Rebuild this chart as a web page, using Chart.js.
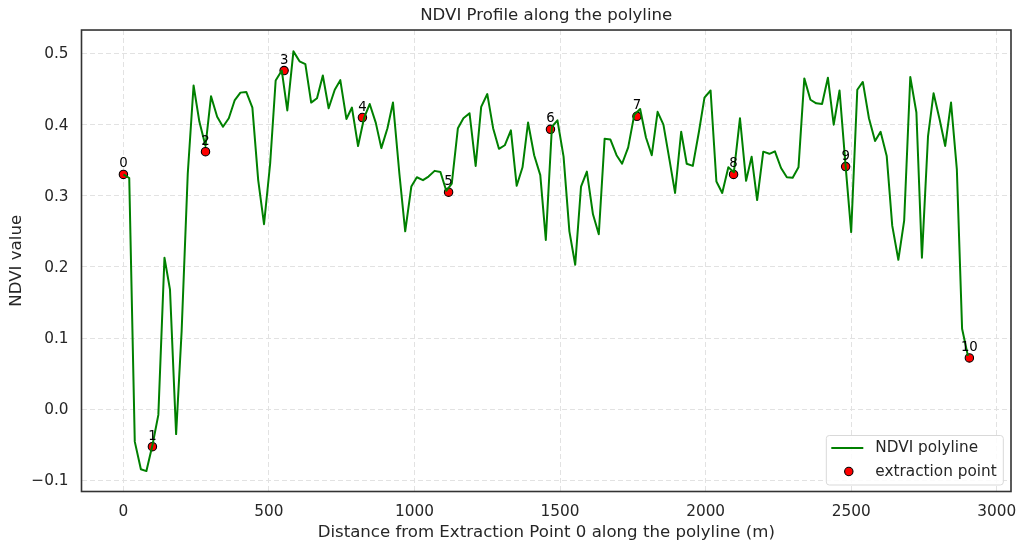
<!DOCTYPE html>
<html><head><meta charset="utf-8">
<style>html,body{margin:0;padding:0;background:#fff}canvas{display:block}</style>
<script src="https://cdn.jsdelivr.net/npm/chart.js@4"></script>
</head><body><canvas id="c" width="1025" height="551" style="width:1025px;height:551px"></canvas>
<script>
const distances=[0,20,39,60,79,100,120,141,160,181,200,221,241,261,282,301,322,342,362,382,402,422,443,463,483,504,523,544,563,584,605,625,645,665,685,705,726,745,766,785,806,827,846,867,886,907,926,948,968,989,1008,1029,1048,1069,1089,1109,1128,1149,1168,1189,1210,1229,1250,1270,1290,1310,1331,1351,1371,1390,1411,1432,1451,1472,1491,1512,1532,1552,1572,1592,1613,1633,1653,1673,1694,1713,1734,1755,1775,1795,1815,1835,1855,1876,1895,1916,1935,1956,1977,1996,2017,2037,2057,2078,2097,2118,2139,2158,2177,2198,2219,2238,2259,2279,2299,2319,2339,2360,2380,2400,2420,2440,2460,2481,2500,2521,2540,2561,2582,2601,2622,2641,2662,2682,2703,2724,2743,2764,2783,2804,2823,2843,2863,2881,2901];
const ndvi=[.33,.325,-.0456,-.0845,-.087,-.05,-.008,.213,.168,-.035,.11,.331,.455,.404,.37,.44,.411,.397,.409,.434,.445,.446,.424,.322,.26,.345,.462,.476,.42,.503,.489,.485,.431,.437,.469,.423,.449,.4625,.408,.424,.37,.41,.429,.4025,.367,.395,.431,.331,.25,.313,.326,.322,.327,.335,.3335,.307,.317,.395,.409,.416,.342,.425,.443,.395,.366,.371,.392,.314,.34,.403,.357,.329,.238,.397,.406,.355,.25,.203,.313,.334,.274,.246,.38,.379,.357,.345,.368,.414,.422,.382,.357,.418,.4,.35,.304,.39,.345,.342,.39,.438,.448,.32,.304,.34,.333,.409,.321,.355,.294,.362,.359,.3625,.339,.326,.3255,.34,.465,.435,.43,.429,.466,.4,.448,.341,.249,.449,.46,.409,.377,.39,.356,.258,.21,.265,.467,.417,.213,.384,.444,.407,.37,.431,.337,.113,.075];
const pointDistances=[0,99.6,282,552,821,1117,1467,1764,2096,2481,2906];
const pointValues=[.33,-.0527,.362,.476,.41,.305,.3934,.4117,.33,.341,.072];
const pointLabels=["0","1","2","3","4","5","6","7","8","9","10"];
const xTicks=[0,500,1000,1500,2000,2500,3000];
const xTickLabels=["0","500","1000","1500","2000","2500","3000"];
const yTicks=[-0.1,0,0.1,0.2,0.3,0.4,0.5];
const yTickLabels=["\u22120.1","0.0","0.1","0.2","0.3","0.4","0.5"];
const titleText="NDVI Profile along the polyline";
const xTitle="Distance from Extraction Point 0 along the polyline (m)";
const yTitle="NDVI value";
const lineName="NDVI polyline";
const pointName="extraction point";

const FONT='"DejaVu Sans"';
const INK='#262626';
const fixedTicks=(vals)=>(s)=>{s.ticks=vals.map(v=>({value:v}));};
const labelFor=(vals,labs)=>(v)=>{const i=vals.findIndex(t=>Math.abs(t-v)<1e-6);return i<0?'':labs[i];};

const overlay={id:'overlay',
  afterDatasetsDraw(chart){
    const {ctx,scales:{x,y}}=chart;
    ctx.save();
    ctx.fillStyle='#000';ctx.font='13.3px '+FONT;ctx.textAlign='center';ctx.textBaseline='alphabetic';
    pointLabels.forEach((t,i)=>ctx.fillText(t,x.getPixelForValue(pointDistances[i]),y.getPixelForValue(pointValues[i])-7));
    ctx.restore();
  },
  afterDraw(chart){
    const {ctx,chartArea:a}=chart;
    ctx.save();
    ctx.strokeStyle='#333';ctx.lineWidth=1.6;
    ctx.strokeRect(a.left,a.top,a.right-a.left,a.bottom-a.top);
    const w=177,h=49.5,bx=a.right-7.7-w,by=a.bottom-6.5-h;
    ctx.beginPath();ctx.roundRect(bx,by,w,h,3);
    ctx.fillStyle='rgba(255,255,255,.85)';ctx.fill();
    ctx.strokeStyle='#d9d9d9';ctx.lineWidth=1;ctx.stroke();
    ctx.strokeStyle='#008000';ctx.lineWidth=2;
    ctx.beginPath();ctx.moveTo(bx+5,by+12.5);ctx.lineTo(bx+37,by+12.5);ctx.stroke();
    ctx.beginPath();ctx.arc(bx+22.5,by+36,4.2,0,Math.PI*2);
    ctx.fillStyle='#ff0000';ctx.fill();ctx.strokeStyle='#000';ctx.lineWidth=1.1;ctx.stroke();
    ctx.fillStyle=INK;ctx.font='15.3px '+FONT;ctx.textAlign='left';ctx.textBaseline='middle';
    ctx.fillText(lineName,bx+49,by+13);
    ctx.fillText(pointName,bx+49,by+36.5);
    ctx.restore();
  }};

new Chart(document.getElementById('c'),{
  type:'line',
  data:{datasets:[
    {label:lineName,data:distances.map((d,i)=>({x:d,y:ndvi[i]})),borderColor:'#008000',borderWidth:2,borderJoinStyle:'round',pointRadius:0,tension:0,fill:false,clip:false},
    {label:pointName,data:pointDistances.map((d,i)=>({x:d,y:pointValues[i]})),showLine:false,pointRadius:4.2,pointBackgroundColor:'#ff0000',pointBorderColor:'#000',pointBorderWidth:1.1}
  ]},
  plugins:[overlay],
  options:{
    responsive:false,animation:false,devicePixelRatio:1,
    layout:{padding:{left:0,right:14,top:0,bottom:0}},
    plugins:{
      legend:{display:false},tooltip:{enabled:false},
      title:{display:true,fullSize:false,text:titleText,color:INK,font:{family:FONT,size:16.6,weight:'normal'},padding:{top:6,bottom:4.1}}
    },
    scales:{
      x:{type:'linear',min:-144,max:3049,
        afterBuildTicks:fixedTicks(xTicks),
        afterFit(s){s.height=59.5;s.paddingLeft=0;s.paddingRight=0;},
        grid:{color:'#e2e2e2',lineWidth:1,drawTicks:false,tickLength:0},
        border:{display:false,dash:[5,3]},
        ticks:{color:INK,font:{family:FONT,size:15.3},padding:11.5,maxRotation:0,autoSkip:false,callback:labelFor(xTicks,xTickLabels)},
        title:{display:true,text:xTitle,color:INK,font:{family:FONT,size:16.6},padding:{top:0,bottom:8}}},
      y:{min:-0.1157,max:0.533,
        afterBuildTicks:fixedTicks(yTicks),
        afterFit(s){s.width=81.5;},
        grid:{color:'#e2e2e2',lineWidth:1,drawTicks:false,tickLength:0},
        border:{display:false,dash:[5,3]},
        ticks:{color:INK,font:{family:FONT,size:15.3},padding:13,labelOffset:1,autoSkip:false,callback:labelFor(yTicks,yTickLabels)},
        title:{display:true,text:yTitle,color:INK,font:{family:FONT,size:16.6},padding:{top:7,bottom:0}}}
    }
  }
});
</script></body></html>
